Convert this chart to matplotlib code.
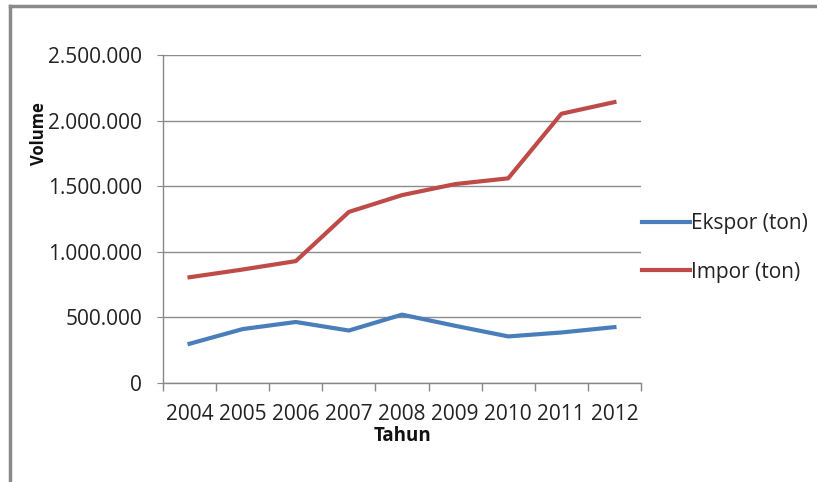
import matplotlib
matplotlib.use("Agg")
import matplotlib.pyplot as plt
from matplotlib.ticker import FuncFormatter, FixedLocator
from matplotlib.lines import Line2D

years = ["2004", "2005", "2006", "2007", "2008", "2009", "2010", "2011", "2012"]
ekspor = [299000, 411000, 465000, 400000, 521000, 436000, 355000, 385000, 426000]
impor = [806000, 865000, 929000, 1304000, 1432000, 1516000, 1560000, 2052000, 2141000]

plt.rcParams['font.family'] = ['Open Sans', 'DejaVu Sans']

fig = plt.figure(figsize=(8.17, 4.82), dpi=100)
ax = fig.add_axes([163/817, 1-383/482, (641-163)/817, (383-55)/482])

x = list(range(len(years)))
ax.plot(x, ekspor, color='#4A7EBB', lw=3, label='Ekspor (ton)', solid_joinstyle='round')
ax.plot(x, impor, color='#BE4B48', lw=3, label='Impor (ton)', solid_joinstyle='round')

ax.set_xlim(-0.5, len(years) - 0.5)
ax.set_ylim(0, 2500000)
ax.set_yticks([0, 500000, 1000000, 1500000, 2000000, 2500000])
ax.yaxis.set_major_formatter(FuncFormatter(lambda v, p: f"{int(v):,}".replace(",", ".")))
ax.set_xticks(x)
ax.set_xticklabels(years)
ax.xaxis.set_minor_locator(FixedLocator([i - 0.5 for i in range(len(years) + 1)]))
ax.tick_params(axis='x', which='major', length=0, labelsize=15, colors='#222222', pad=15)
ax.tick_params(axis='x', which='minor', length=6, color='#888888', width=1)
ax.tick_params(axis='y', length=4.5, color='#888888', labelsize=15, labelcolor='#222222', pad=10.5)

ax.grid(axis='y', color='#8c8c8c', lw=1)
ax.set_axisbelow(True)
for s in ['top', 'right']:
    ax.spines[s].set_visible(False)
for s in ['left', 'bottom']:
    ax.spines[s].set_color('#888888')
    ax.spines[s].set_linewidth(1)

ax.set_xlabel('Tahun', fontsize=13.5, fontweight='bold', color='#111111')
ax.xaxis.set_label_coords(0.5, -0.13)
ax.set_ylabel('Volume', fontsize=12, fontweight='bold', color='#111111')
ax.yaxis.set_label_coords(-0.24, 0.762)

fig.legend(loc='center left', bbox_to_anchor=(642/817, 1-248/482), frameon=False,
           fontsize=15, handlelength=2.3, handletextpad=0.05, labelspacing=1.3,
           borderpad=0, borderaxespad=0, labelcolor='#222222')

# frame lines of the original image
fig.add_artist(Line2D([10/817, 10/817], [0, 1-6/482], transform=fig.transFigure, color='#8a8a8a', lw=2.5))
fig.add_artist(Line2D([10/817, 1], [1-6/482, 1-6/482], transform=fig.transFigure, color='#8a8a8a', lw=2.5))

fig.savefig('out.png', dpi=100)
